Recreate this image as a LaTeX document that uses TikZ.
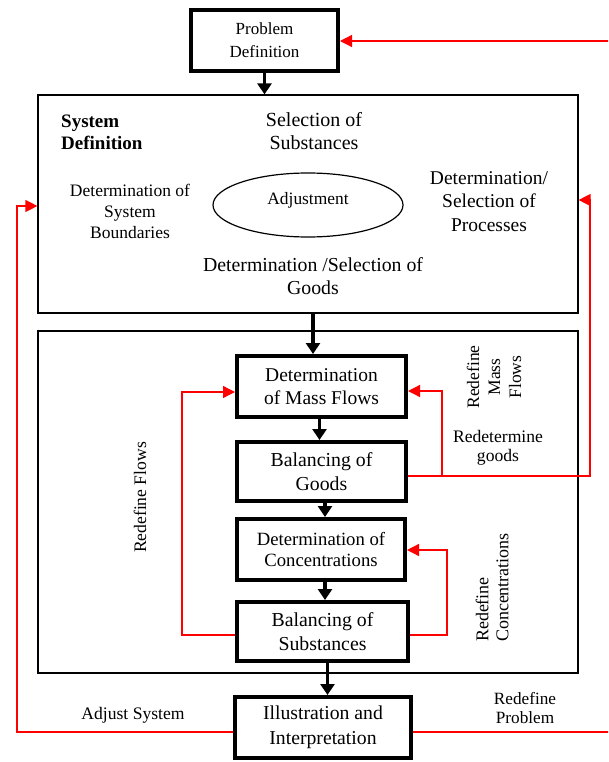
\documentclass[tikz,border=0pt]{standalone}
\usepackage{fontspec}
\setmainfont{Liberation Serif}
\usetikzlibrary{shapes.geometric,arrows.meta}
\newcommand\fsz[2]{\fontsize{#1}{#2}\selectfont}
\begin{document}
\begin{tikzpicture}[x=1pt,y=-1pt,
  flowbox/.style={draw, line width=4pt, inner sep=0pt, align=center},
  frame/.style={draw, line width=1.2pt, inner sep=0pt},
  txt/.style={inner sep=0pt, align=center},
  bigarrow/.style={line width=3.3pt, -{Triangle[length=11pt,width=14pt]}},
  redline/.style={red, line width=1.3pt},
  redarrow/.style={redline, -{Triangle[length=12pt,width=12pt]}},
]
\useasboundingbox (0,0) rectangle (608,762);
\clip (0,0) rectangle (608,762);

\node[flowbox, minimum width=147pt, minimum height=61pt, font=\fsz{17}{23}] (prob) at (264.5,40.5) {Problem\\Definition};
\node[frame, minimum width=540pt, minimum height=218pt] (sys) at (308,204) {};
\node[frame, minimum width=540pt, minimum height=342pt] (inner) at (308,502) {};

\node[txt, anchor=west, align=left, font=\bfseries\fsz{19}{22}] (sysdef) at (61,132.5) {System\\Definition};
\node[txt, font=\fsz{20}{23}] (selsub) at (314,131.5) {Selection of\\Substances};
\node[txt, font=\fsz{17.5}{21}] (detbound) at (130,211) {Determination of\\System\\Boundaries};
\node[draw, ellipse, line width=1.2pt, minimum width=190pt, minimum height=64pt, inner sep=0pt] (ell) at (308,205) {};
\node[txt, font=\fsz{17.4}{20}] (adj) at (308,200) {Adjustment};
\node[txt, font=\fsz{19.5}{23.5}] (detproc) at (489,201.5) {Determination/\\Selection of\\Processes};
\node[txt, font=\fsz{19.8}{23}] (detgoods) at (313,276.5) {Determination /Selection of\\Goods};

\node[flowbox, minimum width=169pt, minimum height=61pt, font=\fsz{19.5}{23}] (mass) at (321.5,386.5) {Determination\\of Mass Flows};
\node[flowbox, minimum width=169pt, minimum height=59pt, font=\fsz{19.8}{24}] (goods) at (321.5,471.5) {Balancing of\\Goods};
\node[flowbox, minimum width=168pt, minimum height=61pt, font=\fsz{18.7}{20.5}] (conc) at (321,549.5) {Determination of\\Concentrations};
\node[flowbox, minimum width=171pt, minimum height=59pt, font=\fsz{19.8}{24}] (subst) at (322.5,631.5) {Balancing of\\Substances};
\node[flowbox, minimum width=176pt, minimum height=61pt, font=\fsz{19.7}{24.5}] (illus) at (323,727.5) {Illustration and\\Interpretation};

\node[txt, rotate=90, font=\fsz{17.5}{21}] (rmf) at (494,377) {Redefine\\Mass\\Flows};
\node[txt, font=\fsz{17.6}{19}] (rgoods) at (498,447.5) {Redetermine\\goods};
\node[txt, rotate=90, font=\fsz{17.6}{20}] (rflows) at (140,497.5) {Redefine Flows};
\node[txt, rotate=90, align=left, font=\fsz{18}{20}] (rconc) at (492,587.5) {Redefine\\Concentrations};
\node[txt, font=\fsz{17.6}{20}] (adjsys) at (133,715) {Adjust System};
\node[txt, font=\fsz{17.2}{19}] (rprob) at (525,708.5) {Redefine\\Problem};

\coordinate (x1) at (313,0);
\draw[bigarrow] (prob.south) -- (sys.north -| prob.south);
\draw[bigarrow] (sys.south -| x1) -- (mass.north -| x1);
\draw[bigarrow] ([xshift=-2pt]mass.south) -- ([xshift=-2pt]mass.south |- goods.north);
\draw[bigarrow] ([xshift=3.5pt]goods.south) -- ([xshift=3.5pt]goods.south |- conc.north);
\draw[bigarrow] ([xshift=4pt]conc.south) -- ([xshift=4pt]conc.south |- subst.north);
\draw[bigarrow] ([xshift=5pt]subst.south) -- ([xshift=5pt]subst.south |- illus.north);

\coordinate (rp1) at (614,732);
\coordinate (rp2) at (614,41);
\draw[redarrow] (illus.east |- rp1) -- (rp1) -- (rp2) -- (prob.east |- rp2);
\coordinate (j1) at (442,476);
\coordinate (c1) at (590,476);
\coordinate (c2) at (590,200);
\draw[redarrow] (goods.east |- j1) -- (c1) -- (c2) -- (sys.east |- c2);
\coordinate (c3) at (442,391);
\draw[redarrow] (j1) -- (c3) -- (mass.east |- c3);
\coordinate (l1) at (17,732);
\coordinate (l2) at (17,206);
\draw[redarrow] (illus.west |- l1) -- (l1) -- (l2) -- (sys.west |- l2);
\coordinate (f1) at (182,635);
\coordinate (f2) at (182,392);
\draw[redarrow] (subst.west |- f1) -- (f1) -- (f2) -- (mass.west |- f2);
\coordinate (k1) at (447,635);
\coordinate (k2) at (447,550);
\draw[redarrow] (subst.east |- k1) -- (k1) -- (k2) -- (conc.east |- k2);
\end{tikzpicture}
\end{document}
